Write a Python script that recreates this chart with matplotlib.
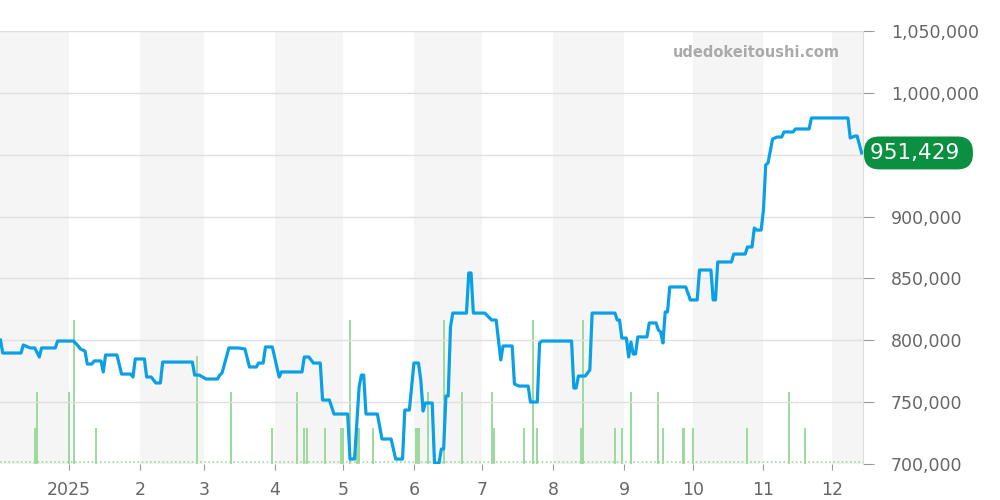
import matplotlib
matplotlib.use("Agg")
import matplotlib.pyplot as plt
from matplotlib.transforms import blended_transform_factory
import pandas as pd

# price history (change points)
price_dates = [
    "2024-12-02", "2024-12-03", "2024-12-11", "2024-12-12", "2024-12-14", "2024-12-15",
    "2024-12-17", "2024-12-19", "2024-12-20", "2024-12-26", "2024-12-27",
    "2025-01-03", "2025-01-05", "2025-01-06", "2025-01-08", "2025-01-09", "2025-01-11",
    "2025-01-12", "2025-01-15", "2025-01-16", "2025-01-17", "2025-01-22", "2025-01-24",
    "2025-01-28", "2025-01-29", "2025-01-30", "2025-02-03", "2025-02-04", "2025-02-06",
    "2025-02-08", "2025-02-10", "2025-02-11", "2025-02-24", "2025-02-25", "2025-02-27",
    "2025-03-02", "2025-03-07", "2025-03-08", "2025-03-09", "2025-03-12", "2025-03-16",
    "2025-03-19", "2025-03-21", "2025-03-24", "2025-03-25", "2025-03-27", "2025-03-28",
    "2025-03-31", "2025-04-02", "2025-04-03", "2025-04-04", "2025-04-13", "2025-04-14",
    "2025-04-16", "2025-04-18", "2025-04-21", "2025-04-22", "2025-04-25", "2025-04-27",
    "2025-05-03", "2025-05-04", "2025-05-06", "2025-05-08", "2025-05-09", "2025-05-10",
    "2025-05-11", "2025-05-16", "2025-05-18", "2025-05-22", "2025-05-24", "2025-05-27",
    "2025-05-28", "2025-05-30", "2025-06-01", "2025-06-03", "2025-06-04", "2025-06-05",
    "2025-06-06", "2025-06-09", "2025-06-10", "2025-06-12", "2025-06-13", "2025-06-14",
    "2025-06-15", "2025-06-16", "2025-06-17", "2025-06-18", "2025-06-24", "2025-06-25",
    "2025-06-26", "2025-06-27", "2025-07-02", "2025-07-05", "2025-07-07", "2025-07-09",
    "2025-07-10", "2025-07-14", "2025-07-15", "2025-07-17", "2025-07-21", "2025-07-22",
    "2025-07-25", "2025-07-26", "2025-07-27", "2025-08-09", "2025-08-10", "2025-08-11",
    "2025-08-12", "2025-08-15", "2025-08-17", "2025-08-18", "2025-08-28", "2025-08-29",
    "2025-08-30", "2025-08-31", "2025-09-02", "2025-09-03", "2025-09-04", "2025-09-05",
    "2025-09-06", "2025-09-07", "2025-09-11", "2025-09-12", "2025-09-15", "2025-09-16",
    "2025-09-17", "2025-09-18", "2025-09-19", "2025-09-20", "2025-09-21", "2025-09-28",
    "2025-09-30", "2025-10-03", "2025-10-04", "2025-10-09", "2025-10-10", "2025-10-11",
    "2025-10-12", "2025-10-18", "2025-10-19", "2025-10-24", "2025-10-25", "2025-10-27",
    "2025-10-28", "2025-10-29", "2025-10-31", "2025-11-01", "2025-11-02", "2025-11-03",
    "2025-11-05", "2025-11-07", "2025-11-09", "2025-11-10", "2025-11-14", "2025-11-15",
    "2025-11-21", "2025-11-22", "2025-12-08", "2025-12-09", "2025-12-11", "2025-12-12",
    "2025-12-14",
]
price_values = [
    800200, 789700, 789700, 796200, 794600, 793800,
    793800, 786500, 793800, 793800, 799400,
    799400, 795400, 793000, 791300, 780800, 780800,
    783300, 783300, 774400, 788100, 788100, 772700,
    772700, 770300, 784900, 784900, 770300, 770300,
    765500, 765500, 782400, 782400, 771900, 771900,
    768700, 768700, 771900, 773600, 793800, 793800,
    793000, 778400, 778400, 781600, 781600, 794600,
    794600, 778400, 770300, 774400, 774400, 786500,
    786500, 781600, 781600, 751700, 751700, 740400,
    740400, 704000, 704000, 762200, 771900, 771900,
    740400, 740400, 720200, 720200, 704000, 704000,
    743600, 743600, 781600, 781600, 767900, 742800,
    749300, 749300, 700800, 700800, 712100, 712100,
    755000, 755000, 810700, 822000, 822000, 854400,
    854400, 822000, 822000, 816400, 816400, 784100,
    795400, 795400, 764700, 763000, 763000, 750100,
    750100, 797800, 799400, 799400, 761400, 761400,
    771100, 771100, 776000, 822000, 822000, 816400,
    816400, 801800, 801800, 786500, 798600, 788900,
    788900, 802700, 802700, 814000, 814000, 808300,
    806700, 797800, 822900, 822900, 843100, 843100,
    832600, 832600, 856800, 856800, 832600, 832600,
    863300, 863300, 869700, 869700, 875400, 875400,
    890800, 889100, 889100, 905300, 941700, 943300,
    962700, 964300, 964300, 968400, 968400, 970800,
    970800, 979700, 979700, 963500, 965100, 965100,
    951429,
]

# number of sales per day (green bars)
sale_dates = [
    "2024-12-17", "2024-12-18", "2025-01-01", "2025-01-03", "2025-01-13", "2025-02-26",
    "2025-03-13", "2025-03-31", "2025-04-11", "2025-04-14", "2025-04-15", "2025-04-23",
    "2025-04-30", "2025-05-01", "2025-05-04", "2025-05-07", "2025-05-08", "2025-05-14",
    "2025-06-02", "2025-06-03", "2025-06-07", "2025-06-14", "2025-06-22", "2025-07-05",
    "2025-07-06", "2025-07-19", "2025-07-23", "2025-07-25", "2025-08-13", "2025-08-14",
    "2025-08-28", "2025-08-31", "2025-09-04", "2025-09-16", "2025-09-18", "2025-09-27",
    "2025-10-01", "2025-10-25", "2025-11-12", "2025-11-19",
]
sale_counts = [
    1, 2, 2, 4, 1, 3,
    2, 1, 2, 1, 1, 1,
    1, 1, 4, 1, 1, 1,
    1, 1, 2, 4, 2, 2,
    1, 1, 4, 1, 1, 4,
    1, 1, 2, 2, 1, 1,
    1, 1, 2, 1,
]

month_starts = pd.date_range("2025-01-01", "2025-12-01", freq="MS")
month_labels = ["2025", "2", "3", "4", "5", "6", "7", "8", "9", "10", "11", "12"]
y_ticks = [700000, 750000, 800000, 850000, 900000, 950000, 1000000, 1050000]
last_price = 951429

x_start = pd.Timestamp("2024-12-01 19:00")
x_end = pd.Timestamp("2025-12-14 14:00")

fig = plt.figure(figsize=(10, 5), dpi=100)
ax2 = fig.add_axes([0.0, 0.072, 0.863, 0.866])
ax = ax2.twinx()
ax.set_zorder(ax2.get_zorder() + 1)
ax.patch.set_visible(False)

# alternating month shading
bands = [x_start] + list(month_starts) + [x_end]
for i in range(0, len(bands) - 1, 2):
    ax2.axvspan(bands[i], bands[i + 1], color="#f5f5f5", lw=0, zorder=0)

# sales bars
sd = pd.to_datetime(sale_dates)
ax2.bar(sd, sale_counts, width=0.9, color="#9ed99e", zorder=2)
ax2.axhline(0.05, color="#9ed99e", lw=1.2, ls=(0, (1, 1.5)), zorder=2)
ax2.set_ylim(0, 12)
ax2.set_yticks([])
for s in ax2.spines.values():
    s.set_visible(False)

# price line
pdts = pd.to_datetime(price_dates)
ax.plot(pdts, price_values, color="#0aa0e6", lw=2.3, solid_joinstyle="round", zorder=3)

ax.set_ylim(700000, 1050000)
ax.set_yticks(y_ticks)
# the 950,000 label sits under the price badge
ax.set_yticklabels(["" if v == 950000 else f"{v:,}" for v in y_ticks])
ax.yaxis.tick_right()
ax.grid(axis="y", color="#e0e0e0", lw=1)
ax2.set_xlim(x_start, x_end)

ax2.set_xticks(month_starts)
ax2.set_xticklabels(month_labels)
ax2.tick_params(axis="x", length=4, color="#999999", labelsize=12.5, labelcolor="#666666", pad=8)
ax.tick_params(axis="y", length=8, color="#999999", labelsize=12.5, labelcolor="#666666", pad=12)

for name, s in ax.spines.items():
    s.set_visible(name == "right")
ax.spines["right"].set_color("#dddddd")

# watermark
ax.text(0.973, 0.951, "udedokeitoushi.com", transform=ax.transAxes, ha="right", va="center",
        fontsize=10.5, fontweight="bold", color="#aaaaaa")

# current price badge
tr = blended_transform_factory(ax.transAxes, ax.transData)
ax.text(1.0085, last_price, f"{last_price:,} ", transform=tr, ha="left", va="center",
        fontsize=15.5, color="white", clip_on=False, zorder=5,
        bbox=dict(boxstyle="round,pad=0.3,rounding_size=0.72", fc="#0a9040", ec="none"))

fig.savefig("out.png", dpi=100)
